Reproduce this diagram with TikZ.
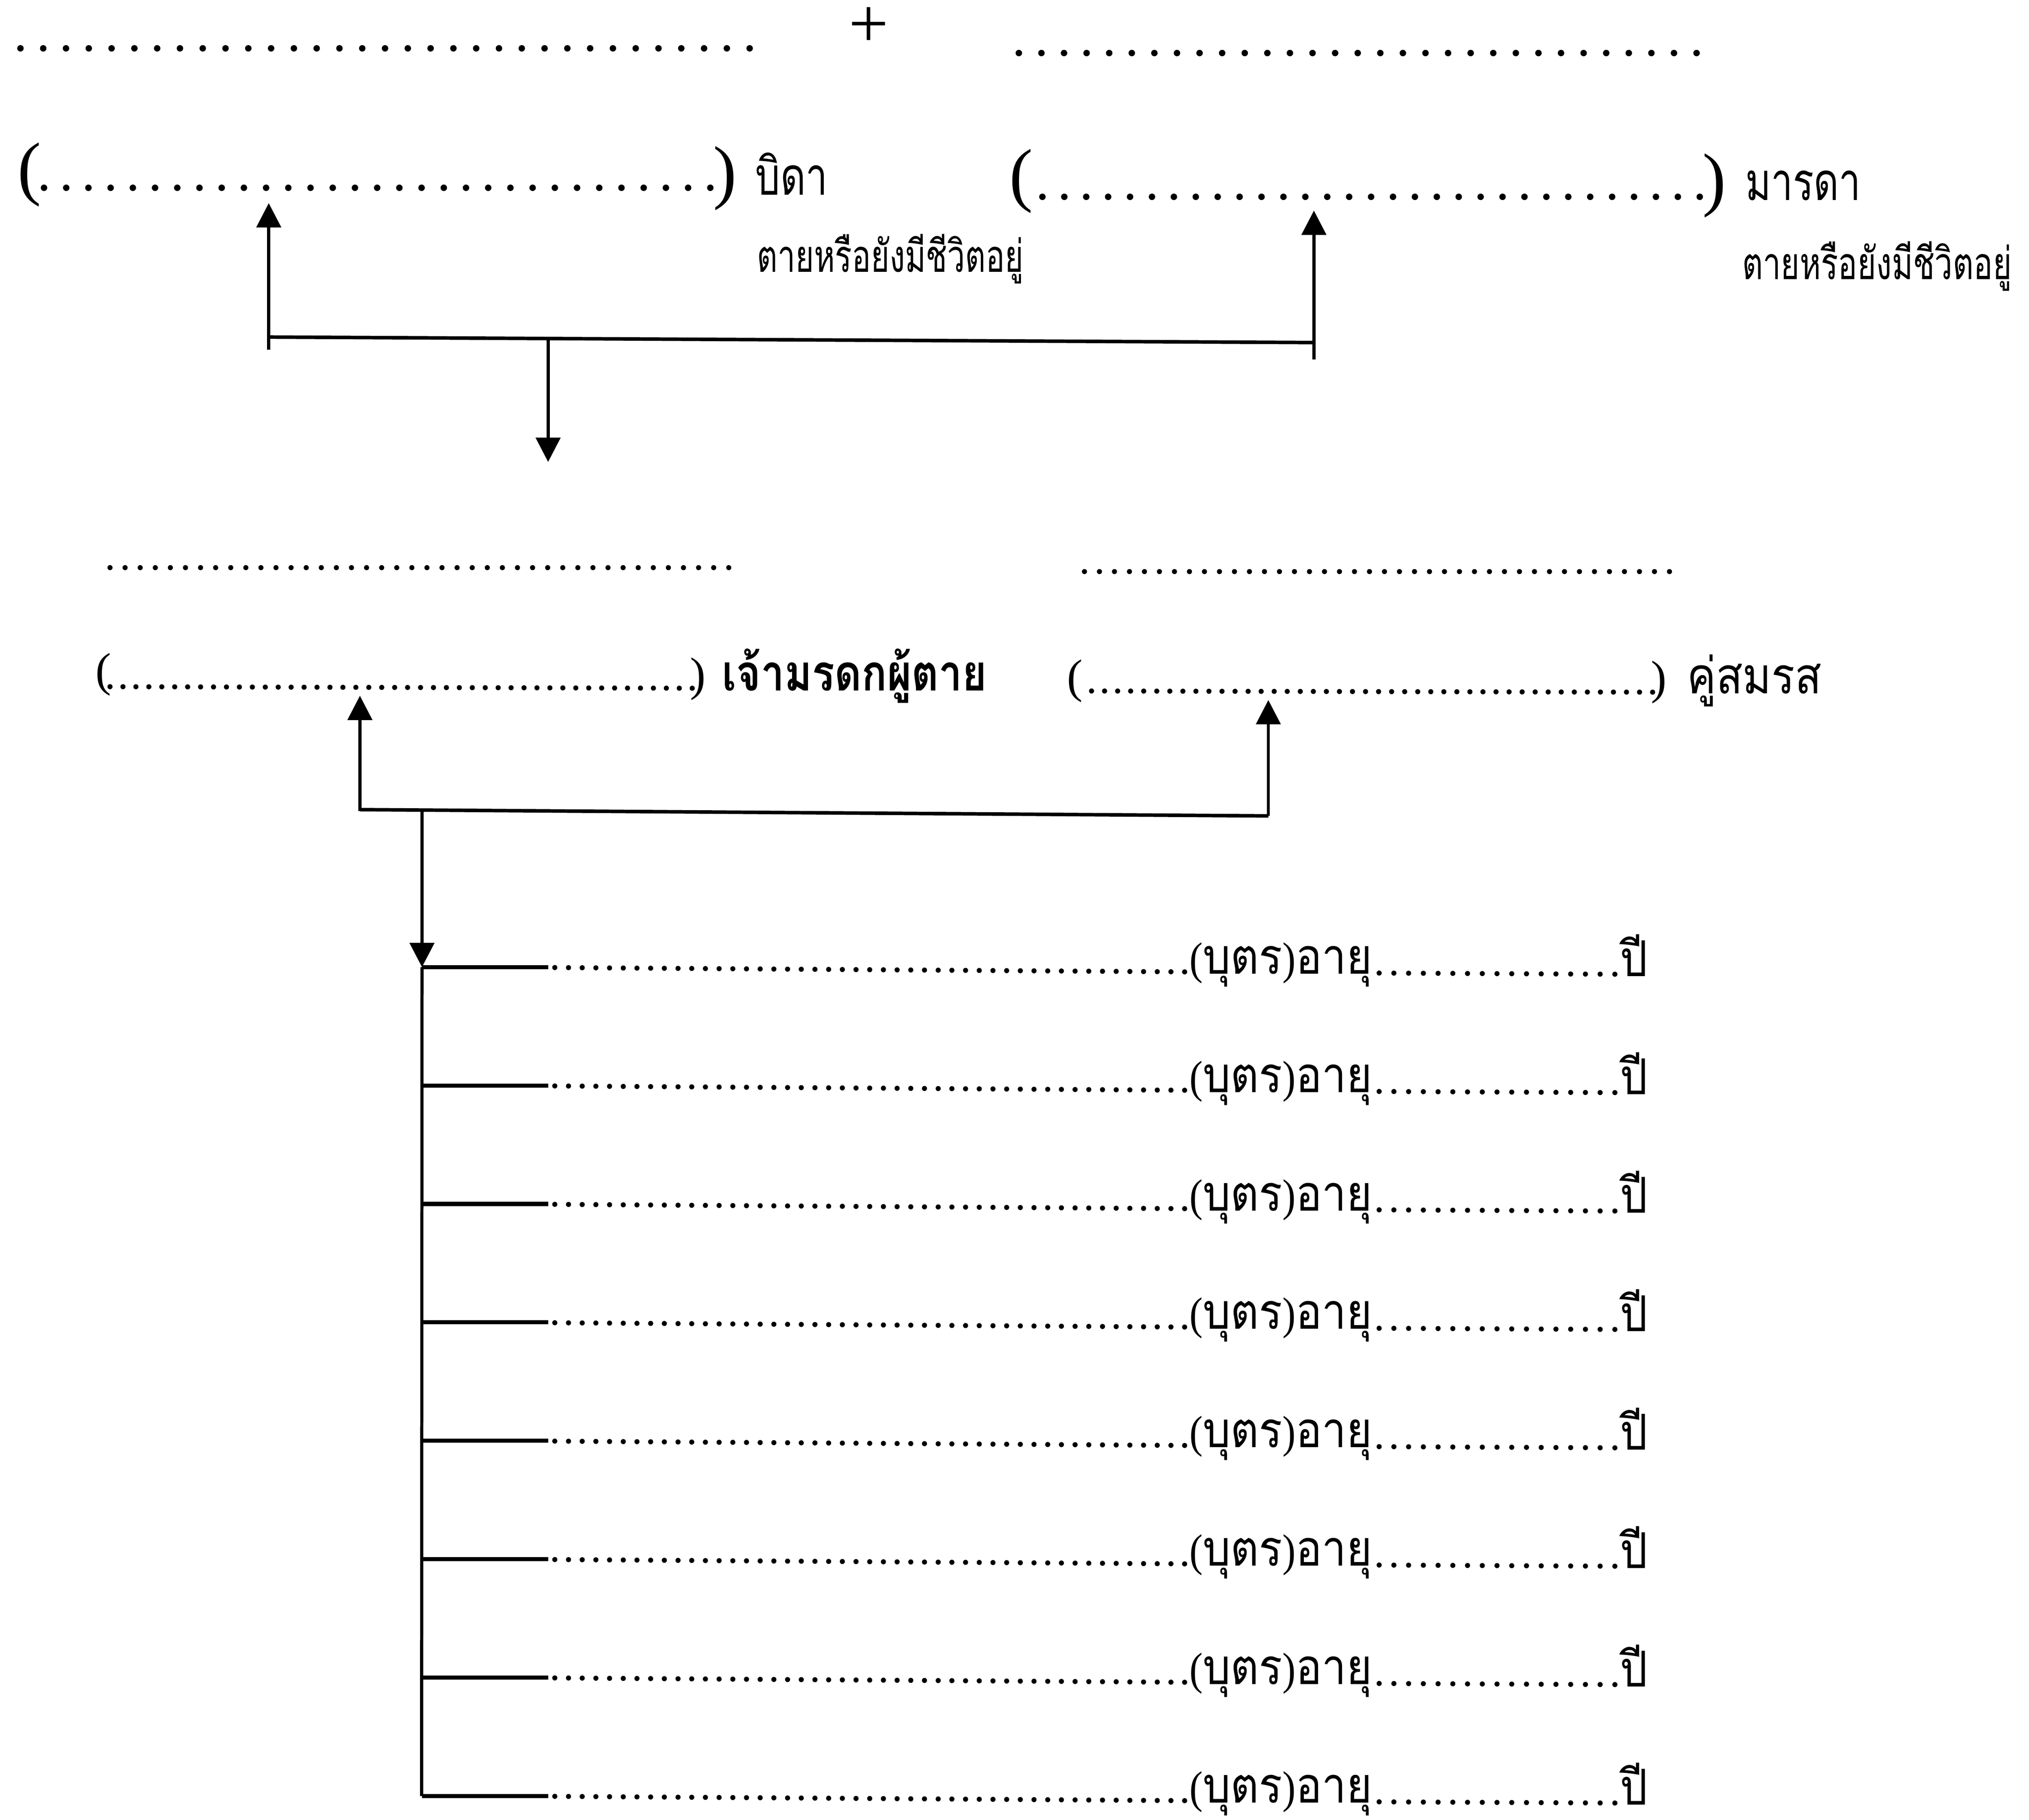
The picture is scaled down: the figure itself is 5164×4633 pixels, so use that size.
\documentclass[tikz,border=0pt]{standalone}
\usepackage{fontspec}
\usepackage{graphicx}
\setmainfont{Liberation Serif}
\newfontfamily\thfont[Script=Thai]{Loma}
\usetikzlibrary{arrows.meta}
\newcommand\fitw[2]{\resizebox{#1}{\height}{#2}}
\begin{document}
\begin{tikzpicture}[x=0.1pt,y=-0.1pt,
  conn/.style={line width=0.8pt,line cap=butt},
  hconn/.style={line width=0.9pt,line cap=butt},
  arr/.style={conn,-{Triangle[length=6.2pt,width=6.2pt]}},
  stub/.style={line width=1.05pt},
  bigdots/.style={line width=1.65pt,line cap=round,dash pattern=on 0pt off #1},
  smalldots/.style={line width=1.3pt,line cap=round,dash pattern=on 0pt off #1},
  lbl/.style={inner sep=0pt,anchor=base west},
  lble/.style={inner sep=0pt,anchor=base east},
  pA/.style={font=\fontsize{18}{20}\selectfont},
  pB/.style={font=\fontsize{12}{14}\selectfont},
  thA/.style={font=\thfont\fontsize{13.4}{16}\selectfont},
  thS/.style={font=\thfont\fontsize{11.4}{13}\selectfont},
  thB/.style={font=\thfont\fontsize{12.8}{14}\selectfont},
  thC/.style={font=\thfont\fontsize{12.6}{14}\selectfont},
]
\fill[white] (0,0) rectangle (5164,4633);
\useasboundingbox (0,0) rectangle (5164,4633);

% ---------- top line ----------
\coordinate (tl1) at (52,123);   \coordinate (tl2) at (1908,123);
\coordinate (tr1) at (2593,135); \coordinate (tr2) at (4318,135);
\draw[bigdots=5.8pt] (tl1) -- (tl2);
\draw[bigdots=5.75pt] (tr1) -- (tr2);
\node[inner sep=0pt,anchor=base,pA] (plus) at (2211,120) {+};

% ---------- father ----------
\node[lbl,pA] (fpl) at (43,488) {(};
\coordinate (fd1) at (112,478); \coordinate (fd2) at (1808,478);
\draw[bigdots=5.653pt] (fd1) -- (fd2);
\node[lble,pA] (fpr) at (1877,497) {)};
\node[lbl,thA] (father) at (1921,496) {\fitw{18.4pt}{บิดา}};
\node[lbl,thS] (fstat) at (1925,692) {\fitw{67.8pt}{ตายหรือยังมีชีวิตอยู่}};

% ---------- mother ----------
\node[lbl,pA] (mpl) at (2567,504) {(};
\coordinate (md1) at (2653,501); \coordinate (md2) at (4326,501);
\draw[bigdots=5.577pt] (md1) -- (md2);
\node[lble,pA] (mpr) at (4395,516) {)};
\node[lbl,thA] (mother) at (4440,510) {\fitw{29.4pt}{มารดา}};
\node[lbl,thS] (mstat) at (4432,711) {\fitw{68.6pt}{ตายหรือยังมีชีวิตอยู่}};

% ---------- parents connector ----------
\coordinate (pa) at (684,517);   \coordinate (pab) at (684,890);
\coordinate (pb) at (3344,536);  \coordinate (pbb) at (3344,915);
\coordinate (ph1) at (684,858);  \coordinate (ph2) at (3344,872);
\coordinate (pd1) at (1395,862); \coordinate (pd2) at (1395,1176);
\draw[arr] (pab) -- (pa);
\draw[arr] (pbb) -- (pb);
\draw[hconn] (ph1) -- (ph2);
\draw[arr] (pd1) -- (pd2);

% ---------- second level ----------
\coordinate (sl1) at (280,1445);  \coordinate (sl2) at (1855,1445);
\coordinate (sr1) at (2760,1455); \coordinate (sr2) at (4249,1455);
\draw[smalldots=3.841pt] (sl1) -- (sl2);
\draw[smalldots=3.818pt] (sr1) -- (sr2);

\node[lbl,pB] (dpl) at (241,1746) {(};
\coordinate (dd1) at (280,1748); \coordinate (dd2) at (1762,1752);
\draw[smalldots=3.293pt] (dd1) -- (dd2);
\node[lble,pB] (dpr) at (1798,1757) {)};
\node[lbl,thB] (deceased) at (1836,1758) {\bfseries\fitw{67.4pt}{เจ้ามรดกผู้ตาย}};

\node[lbl,pB] (spl) at (2714,1762) {(};
\coordinate (sd1) at (2778,1759); \coordinate (sd2) at (4206,1762);
\draw[smalldots=3.321pt] (sd1) -- (sd2);
\node[lble,pB] (spr) at (4244,1766) {)};
\node[lbl,thB] (spouse) at (4292,1766) {\fitw{34.2pt}{คู่สมรส}};

% ---------- couple connector ----------
\coordinate (ca) at (916,1771);  \coordinate (cab) at (916,2065);
\coordinate (cb) at (3228,1782); \coordinate (cbb) at (3228,2077);
\coordinate (ch1) at (916,2061); \coordinate (ch2) at (3228,2077);
\draw[arr] (cab) -- (ca);
\draw[arr] (cbb) -- (cb);
\draw[hconn] (ch1) -- (ch2);
\coordinate (trunk0) at (1074,2062);
\coordinate (trunkEnd) at (1073,4572);

% ---------- children ----------
\foreach \k in {0,...,7}{
  \pgfmathsetmacro{\yk}{2462+301.4*\k}
  \coordinate (c\k) at (1074,\yk);
  \coordinate (cs\k) at (1395,\yk);
  \coordinate (cd\k) at (1412,\yk+1);
  \coordinate (ce\k) at (3015,\yk+12);
  \coordinate (cf\k) at (3510,\yk+15);
  \coordinate (cg\k) at (4110,\yk+18);
  \draw[stub] (c\k) -- (cs\k);
  \draw[smalldots=3.485pt] (cd\k) -- (ce\k);
  \node[lbl,thC] (child\k) at (3026,\yk+17) {\fitw{46.4pt}{{\rmfamily\fontsize{11.5}{13}\selectfont(}บุตร{\rmfamily\fontsize{11.5}{13}\selectfont)}อายุ}};
  \draw[smalldots=3.75pt] (cf\k) -- (cg\k);
  \node[lbl,thC] (year\k) at (4121,\yk+23) {\fitw{7.0pt}{ปี}};
}
\draw[arr] (trunk0) -- (c0);
\draw[conn] (c0) -- (trunkEnd);
\end{tikzpicture}
\end{document}
